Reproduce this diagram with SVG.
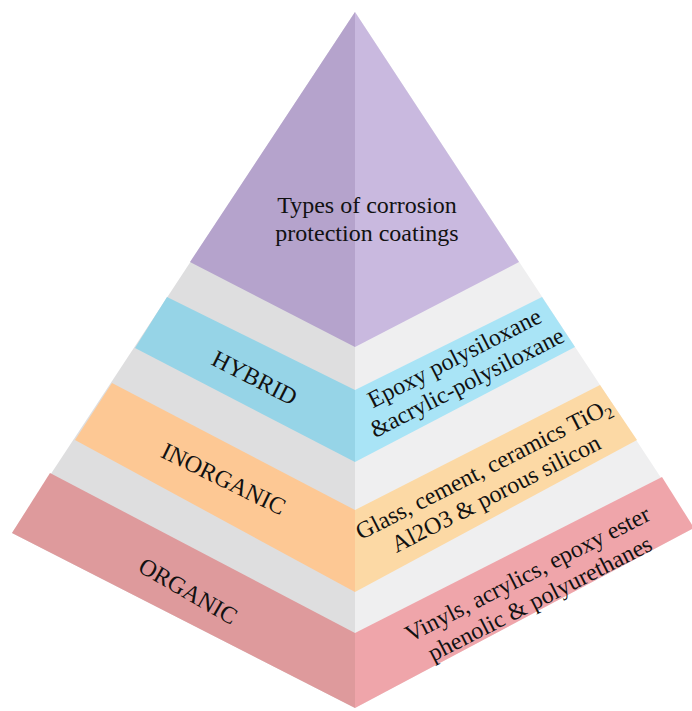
<svg xmlns="http://www.w3.org/2000/svg" width="692" height="711" viewBox="0 0 692 711">
<style>
.t{font-family:"Liberation Serif","Times New Roman",serif;font-size:24px;fill:#111;text-anchor:middle}
.gl{fill:#DEDEDF}.gr{fill:#EFEFF0}
.pl{fill:#B5A3CC}.pr{fill:#C9B9DF}
.bl{fill:#96D4E7}.br{fill:#A9E4F6}
.ol{fill:#FDC894}.or{fill:#FCD9A5}
.rl{fill:#DE9A9C}.rr{fill:#EFA5AA}
</style>
<rect width="692" height="711" fill="#FFFFFF"/>
<g id="body">
<polygon class="gl" points="355,12 12,533 355,708"/>
<polygon class="gr" points="355,12 355,708 694,528"/>
</g>
<g id="apex">
<polygon class="pl" points="355,12 190,262 355,347"/>
<polygon class="pr" points="355,12 355,347 519,262"/>
<text class="t" x="367" y="213">Types of corrosion</text>
<text class="t" x="367" y="241">protection coatings</text>
</g>
<g id="hybrid">
<polygon class="bl" points="167,297 135,348 355,462 355,390"/>
<polygon class="br" points="355,390 542,297 575,347 355,462"/>
<text class="t" transform="translate(251,385) rotate(27)">HYBRID</text>
<g transform="translate(458,365) rotate(-27)">
<text class="t" x="0" y="0">Epoxy polysiloxane</text>
<text class="t" x="0" y="27.5">&amp;acrylic-polysiloxane</text>
</g>
</g>
<g id="inorganic">
<polygon class="ol" points="112,383 75,440 355,592 355,510"/>
<polygon class="or" points="355,510 600,385 637,440 355,592"/>
<text class="t" transform="translate(220,486) rotate(26)">INORGANIC</text>
<g transform="translate(487,476) rotate(-27)">
<text class="t" x="0" y="0">Glass, cement, ceramics TiO<tspan font-size="16" dy="5">2</tspan></text>
<text class="t" x="0" y="27.5">Al2O3 &amp; porous silicon</text>
</g>
</g>
<g id="organic">
<polygon class="rl" points="50,473 12,533 355,708 355,633"/>
<polygon class="rr" points="355,633 662,477 694,528 355,708"/>
<text class="t" transform="translate(184,598) rotate(30)">ORGANIC</text>
<g transform="translate(531,581) rotate(-27)">
<text class="t" x="0" y="0">Vinyls, acrylics, epoxy ester</text>
<text class="t" x="0" y="27.5">phenolic &amp; polyurethanes</text>
</g>
</g>
<g id="connectors"/>
</svg>
